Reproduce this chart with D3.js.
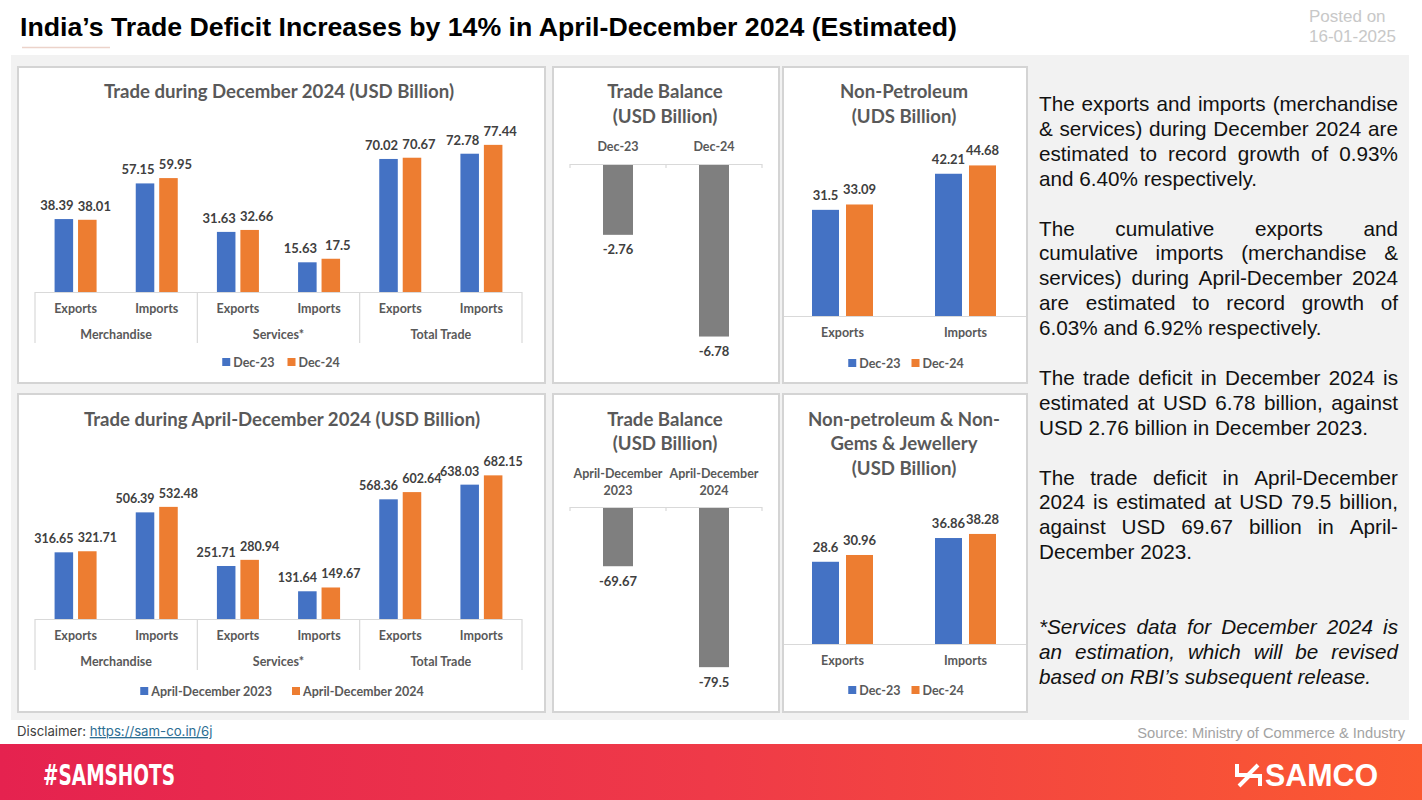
<!DOCTYPE html>
<html><head><meta charset="utf-8">
<script src="https://cdn.jsdelivr.net/npm/d3@7"></script>
<style>body{margin:0;background:#fff;} svg{display:block;}</style>
</head><body>
<script>
// ---------------- DATA ----------------
const subCategories = ["Exports", "Imports", "Exports", "Imports", "Exports", "Imports"];
const groupNames = ["Merchandise", "Services*", "Total Trade"];
const decSeriesNames = ["Dec-23", "Dec-24"];
const dec23Values = [38.39, 57.15, 31.63, 15.63, 70.02, 72.78];
const dec24Values = [38.01, 59.95, 32.66, 17.5, 70.67, 77.44];
const aprSeriesNames = ["April-December 2023", "April-December 2024"];
const apr23Values = [316.65, 506.39, 251.71, 131.64, 568.36, 638.03];
const apr24Values = [321.71, 532.48, 280.94, 149.67, 602.64, 682.15];
const balanceDecCategories = ["Dec-23", "Dec-24"];
const balanceDecValues = [-2.76, -6.78];
const balanceAprCategories = [["April-December", "2023"], ["April-December", "2024"]];
const balanceAprValues = [-69.67, -79.5];
const nonPetCategories = ["Exports", "Imports"];
const nonPet23Values = [31.5, 42.21];
const nonPet24Values = [33.09, 44.68];
const nonPetGems23Values = [28.6, 36.86];
const nonPetGems24Values = [30.96, 38.28];
const paragraphs = [
  ["The exports and imports (merchandise", "& services) during December 2024 are", "estimated to record growth of 0.93%", "and 6.40% respectively."],
  ["The cumulative exports and", "cumulative imports (merchandise &", "services) during April-December 2024", "are estimated to record growth of", "6.03% and 6.92% respectively."],
  ["The trade deficit in December 2024 is", "estimated at USD 6.78 billion, against", "USD 2.76 billion in December 2023."],
  ["The trade deficit in April-December", "2024 is estimated at USD 79.5 billion,", "against USD 69.67 billion in April-", "December 2023."],
  ["*Services data for December 2024 is", "an estimation, which will be revised", "based on RBI\u2019s subsequent release."]
];

// ---------------- STYLE ----------------
const BLUE = "#4472c4", ORANGE = "#ed7d31", GRAY = "#7f7f7f";
const CF = "Lato, 'Open Sans', sans-serif";
const AF = "'Liberation Sans', Arial, sans-serif";
const TXT = "#595959", VAL = "#404040", AXIS = "#d9d9d9";

const svg = d3.select("body").append("svg").attr("width", 1422).attr("height", 800);
const defs = svg.append("defs");
const grad = defs.append("linearGradient").attr("id", "band").attr("x1", "0%").attr("x2", "100%");
grad.append("stop").attr("offset", "0%").attr("stop-color", "#e5224f");
grad.append("stop").attr("offset", "50%").attr("stop-color", "#ef3a48");
grad.append("stop").attr("offset", "100%").attr("stop-color", "#fb5a31");

// header
svg.append("rect").attr("x", 11).attr("y", 55).attr("width", 1398).attr("height", 665).attr("fill", "#f2f2f2");
svg.append("text").attr("x", 20).attr("y", 36).attr("font-family", AF).attr("font-weight", 700)
  .attr("font-size", 25.5).attr("fill", "#000").attr("textLength", 937).attr("lengthAdjust", "spacingAndGlyphs")
  .text("India\u2019s Trade Deficit Increases by 14% in April-December 2024 (Estimated)");
svg.append("line").attr("x1", 22).attr("x2", 110).attr("y1", 47.5).attr("y2", 47.5)
  .attr("stroke", "#ecd3ca").attr("stroke-width", 1.5);
svg.append("text").attr("x", 1309).attr("y", 22).attr("font-family", AF).attr("font-size", 17).attr("fill", "#c8c8c8").text("Posted on");
svg.append("text").attr("x", 1309).attr("y", 42).attr("font-family", AF).attr("font-size", 17).attr("fill", "#c8c8c8").text("16-01-2025");

// panels
[[18, 67, 527, 316], [553, 67, 226, 316], [783, 67, 244, 316],
 [18, 394, 527, 318], [553, 394, 226, 318], [783, 394, 244, 318]].forEach(p => {
  svg.append("rect").attr("x", p[0]).attr("y", p[1]).attr("width", p[2]).attr("height", p[3])
    .attr("fill", "#fff").attr("stroke", "#d4d4d4").attr("stroke-width", 2);
});

function titleLines(cx, baselines, lines) {
  lines.forEach((l, i) => svg.append("text").attr("x", cx).attr("y", baselines[i]).attr("text-anchor", "middle")
    .attr("font-family", CF).attr("font-weight", 700).attr("font-size", 18.6).attr("fill", TXT).text(l));
}

function legend(cx, cy, items, itemGap) {
  const g = svg.append("g");
  const texts = items.map(it => {
    const t = g.append("text").attr("font-family", CF).attr("font-size", 12.5).attr("font-weight", 700)
      .attr("fill", TXT).attr("y", cy + 4.5).text(it.label);
    return { t, w: t.node().getComputedTextLength() };
  });
  const sq = 8, gap = 3;
  const total = d3.sum(texts, d => sq + gap + d.w) + itemGap * (items.length - 1);
  let x = cx - total / 2;
  items.forEach((it, i) => {
    g.append("rect").attr("x", x).attr("y", cy - 4).attr("width", sq).attr("height", sq).attr("fill", it.color);
    texts[i].t.attr("x", x + sq + gap);
    x += sq + gap + texts[i].w + itemGap;
  });
}

function groupedChart(cfg) {
  const g = svg.append("g");
  const x0 = d3.scaleBand().domain(d3.range(subCategories.length)).range([cfg.xl, cfg.xr]);
  const x1 = d3.scaleBand().domain([0, 1]).range([-21, 21]).paddingInner(0.21);
  const y = d3.scaleLinear().domain(cfg.domain).range([cfg.axisY, cfg.top]);
  const colors = [BLUE, ORANGE];
  cfg.series.forEach((vals, si) => {
    g.selectAll(null).data(vals).join("rect")
      .attr("x", (d, i) => x0(i) + x0.bandwidth() / 2 + x1(si))
      .attr("y", d => y(d)).attr("width", x1.bandwidth()).attr("height", d => y(0) - y(d))
      .attr("fill", colors[si]);
  });
  cfg.series.forEach((vals, si) => {
    g.selectAll(null).data(vals).join("text")
      .attr("x", (d, i) => x0(i) + x0.bandwidth() / 2 + x1(si) + x1.bandwidth() / 2 + (si === 0 ? -cfg.labelDx : cfg.labelDx))
      .attr("y", d => y(d) - 9).attr("text-anchor", "middle")
      .attr("font-family", CF).attr("font-weight", 700).attr("font-size", cfg.labelSize).attr("fill", VAL)
      .text(d => d);
  });
  // multi-level category axis
  g.append("line").attr("x1", cfg.xl).attr("x2", cfg.xr).attr("y1", cfg.axisY + 0.5).attr("y2", cfg.axisY + 0.5)
    .attr("stroke", AXIS).attr("stroke-width", 1.2);
  [0, 2, 4, 6].forEach(i => {
    const xx = i < 6 ? x0(i) : cfg.xr;
    g.append("line").attr("x1", xx).attr("x2", xx).attr("y1", cfg.axisY).attr("y2", cfg.axisY + 51)
      .attr("stroke", AXIS).attr("stroke-width", 1.2);
  });
  g.selectAll(null).data(subCategories).join("text")
    .attr("x", (d, i) => x0(i) + x0.bandwidth() / 2).attr("y", cfg.axisY + 21).attr("text-anchor", "middle")
    .attr("font-family", CF).attr("font-weight", 700).attr("font-size", 12.5).attr("fill", TXT).text(d => d);
  g.selectAll(null).data(groupNames).join("text")
    .attr("x", (d, i) => x0(i * 2) + x0.bandwidth()).attr("y", cfg.axisY + 47).attr("text-anchor", "middle")
    .attr("font-family", CF).attr("font-weight", 700).attr("font-size", 12.5).attr("fill", TXT).text(d => d);
}

function balanceChart(cfg) {
  const g = svg.append("g");
  const x = d3.scaleBand().domain(d3.range(cfg.values.length)).range([570, 762]).paddingInner(0.6875).paddingOuter(0.34375);
  const y = d3.scaleLinear().domain(cfg.domain).range(cfg.range);
  const y0 = cfg.range[0];
  g.selectAll(null).data(cfg.values).join("rect")
    .attr("x", (d, i) => x(i)).attr("y", y0).attr("width", x.bandwidth()).attr("height", d => y(d) - y0).attr("fill", GRAY);
  g.selectAll(null).data(cfg.values).join("text")
    .attr("x", (d, i) => x(i) + x.bandwidth() / 2).attr("y", d => y(d) + 19.5).attr("text-anchor", "middle")
    .attr("font-family", CF).attr("font-weight", 700).attr("font-size", 13).attr("fill", VAL).text(d => d);
  g.append("line").attr("x1", 570).attr("x2", 762).attr("y1", y0 - 0.5).attr("y2", y0 - 0.5).attr("stroke", AXIS).attr("stroke-width", 1.2);
  [570, 666, 762].forEach(xx => g.append("line").attr("x1", xx).attr("x2", xx).attr("y1", y0 - 1).attr("y2", y0 + 3)
    .attr("stroke", AXIS).attr("stroke-width", 1.2));
  cfg.categories.forEach((c, i) => {
    const lines = Array.isArray(c) ? c : [c];
    lines.forEach((l, j) => g.append("text").attr("x", x(i) + x.bandwidth() / 2).attr("y", cfg.catBaselines[j])
      .attr("text-anchor", "middle").attr("font-family", CF).attr("font-weight", 700).attr("font-size", 12.5)
      .attr("fill", TXT).text(l));
  });
}

function pairChart(cfg) {
  const g = svg.append("g");
  const x0 = d3.scaleBand().domain(nonPetCategories).range([781, 1027]);
  const x1 = d3.scaleBand().domain([0, 1]).range([-30.5, 30.5]).paddingInner(0.206);
  const y = d3.scaleLinear().domain(cfg.domain).range([cfg.axisY, cfg.top]);
  const colors = [BLUE, ORANGE];
  cfg.series.forEach((vals, si) => {
    g.selectAll(null).data(vals).join("rect")
      .attr("x", (d, i) => x0(nonPetCategories[i]) + x0.bandwidth() / 2 + x1(si))
      .attr("y", d => y(d)).attr("width", x1.bandwidth()).attr("height", d => y(0) - y(d)).attr("fill", colors[si]);
    g.selectAll(null).data(vals).join("text")
      .attr("x", (d, i) => x0(nonPetCategories[i]) + x0.bandwidth() / 2 + x1(si) + x1.bandwidth() / 2)
      .attr("y", d => y(d) - 10).attr("text-anchor", "middle")
      .attr("font-family", CF).attr("font-weight", 700).attr("font-size", 13).attr("fill", VAL).text(d => d);
  });
  g.append("line").attr("x1", 784).attr("x2", 1026).attr("y1", cfg.axisY + 0.5).attr("y2", cfg.axisY + 0.5)
    .attr("stroke", AXIS).attr("stroke-width", 1.2);
  g.selectAll(null).data(nonPetCategories).join("text")
    .attr("x", d => x0(d) + x0.bandwidth() / 2).attr("y", cfg.axisY + 21).attr("text-anchor", "middle")
    .attr("font-family", CF).attr("font-weight", 700).attr("font-size", 12.5).attr("fill", TXT).text(d => d);
}

// --- Top-left
titleLines(279, [98], ["Trade during December 2024 (USD Billion)"]);
groupedChart({ xl: 35, xr: 522, axisY: 292, top: 140, domain: [0, 80], series: [dec23Values, dec24Values], labelDx: 7, labelSize: 13 });
legend(281, 362, [{ label: decSeriesNames[0], color: BLUE }, { label: decSeriesNames[1], color: ORANGE }], 13);

// --- Bottom-left
titleLines(282, [426], ["Trade during April-December 2024 (USD Billion)"]);
groupedChart({ xl: 35, xr: 522, axisY: 619, top: 471.6, domain: [0, 700], series: [apr23Values, apr24Values], labelDx: 10, labelSize: 12.5 });
legend(282, 691, [{ label: aprSeriesNames[0], color: BLUE }, { label: aprSeriesNames[1], color: ORANGE }], 20);

// --- Trade balance
titleLines(665, [98, 123], ["Trade Balance", "(USD Billion)"]);
balanceChart({ values: balanceDecValues, categories: balanceDecCategories, domain: [0, -7], range: [165, 342.1], catBaselines: [151] });
titleLines(665, [426, 450], ["Trade Balance", "(USD Billion)"]);
balanceChart({ values: balanceAprValues, categories: balanceAprCategories, domain: [-64, -80], range: [508, 672.3], catBaselines: [478, 495] });

// --- Non-petroleum
titleLines(904, [98, 123], ["Non-Petroleum", "(UDS Billion)"]);
pairChart({ axisY: 316, top: 147.5, domain: [0, 50], series: [nonPet23Values, nonPet24Values] });
legend(906, 363, [{ label: decSeriesNames[0], color: BLUE }, { label: decSeriesNames[1], color: ORANGE }], 11);
titleLines(904, [426, 450, 475], ["Non-petroleum & Non-", "Gems & Jewellery", "(USD Billion)"]);
pairChart({ axisY: 644, top: 529, domain: [0, 40], series: [nonPetGems23Values, nonPetGems24Values] });
legend(906, 690, [{ label: decSeriesNames[0], color: BLUE }, { label: decSeriesNames[1], color: ORANGE }], 11);

// --- Right text (justified)
const TX0 = 1039, TX1 = 1398, LH = 24.9, FS = 20.7;
const gapsBefore = [0, 1, 1, 1, 2];
let lineIdx = 0;
paragraphs.forEach((para, pi) => {
  lineIdx += gapsBefore[pi];
  const italic = pi === paragraphs.length - 1;
  para.forEach((line, li) => {
    const yb = 111 + lineIdx * LH;
    const t = svg.append("text").attr("y", yb).attr("font-family", AF).attr("font-size", FS).attr("fill", "#111")
      .attr("font-style", italic ? "italic" : "normal");
    const words = line.split(" ");
    if (li === para.length - 1 || words.length < 2) {
      t.attr("x", TX0).text(line);
    } else {
      const widths = words.map(w => {
        const tmp = svg.append("text").attr("font-family", AF).attr("font-size", FS).attr("font-style", italic ? "italic" : "normal").text(w);
        const wd = tmp.node().getComputedTextLength(); tmp.remove(); return wd;
      });
      const sp = (TX1 - TX0 - d3.sum(widths)) / (words.length - 1);
      let x = TX0;
      words.forEach((w, wi) => { t.append("tspan").attr("x", x).text(w); x += widths[wi] + sp; });
    }
    lineIdx++;
  });
});

// --- Footer
const disc = svg.append("text").attr("x", 17).attr("y", 736).attr("font-family", "Inter, sans-serif").attr("font-size", 13.2).attr("fill", "#404040");
disc.append("tspan").text("Disclaimer: ");
disc.append("tspan").attr("fill", "#2d6e93").attr("text-decoration", "underline").text("https://sam-co.in/6j");
svg.append("text").attr("x", 1405).attr("y", 738).attr("text-anchor", "end").attr("font-family", AF).attr("font-size", 14.7)
  .attr("fill", "#a3a3a3").text("Source: Ministry of Commerce & Industry");
svg.append("rect").attr("x", 0).attr("y", 744).attr("width", 1422).attr("height", 56).attr("fill", "url(#band)");
svg.append("text").attr("x", 43).attr("y", 785).attr("font-family", "'Liberation Sans Narrow', 'DejaVu Sans Condensed', sans-serif")
  .attr("font-weight", 700).attr("font-size", 29).attr("fill", "#fff").attr("textLength", 132).attr("lengthAdjust", "spacingAndGlyphs").text("#SAMSHOTS");
svg.append("text").attr("x", 1265).attr("y", 786).attr("font-family", AF).attr("font-weight", 700).attr("font-size", 31)
  .attr("fill", "#fff").attr("textLength", 113).attr("lengthAdjust", "spacingAndGlyphs").text("SAMCO");
svg.append("path").attr("d", "M1237,764 V775 H1248 M1248,775 L1258,765 M1260,786 V776 H1249 M1249,776 L1239,786")
  .attr("fill", "none").attr("stroke", "#fff").attr("stroke-width", 4);
</script>
</body></html>
